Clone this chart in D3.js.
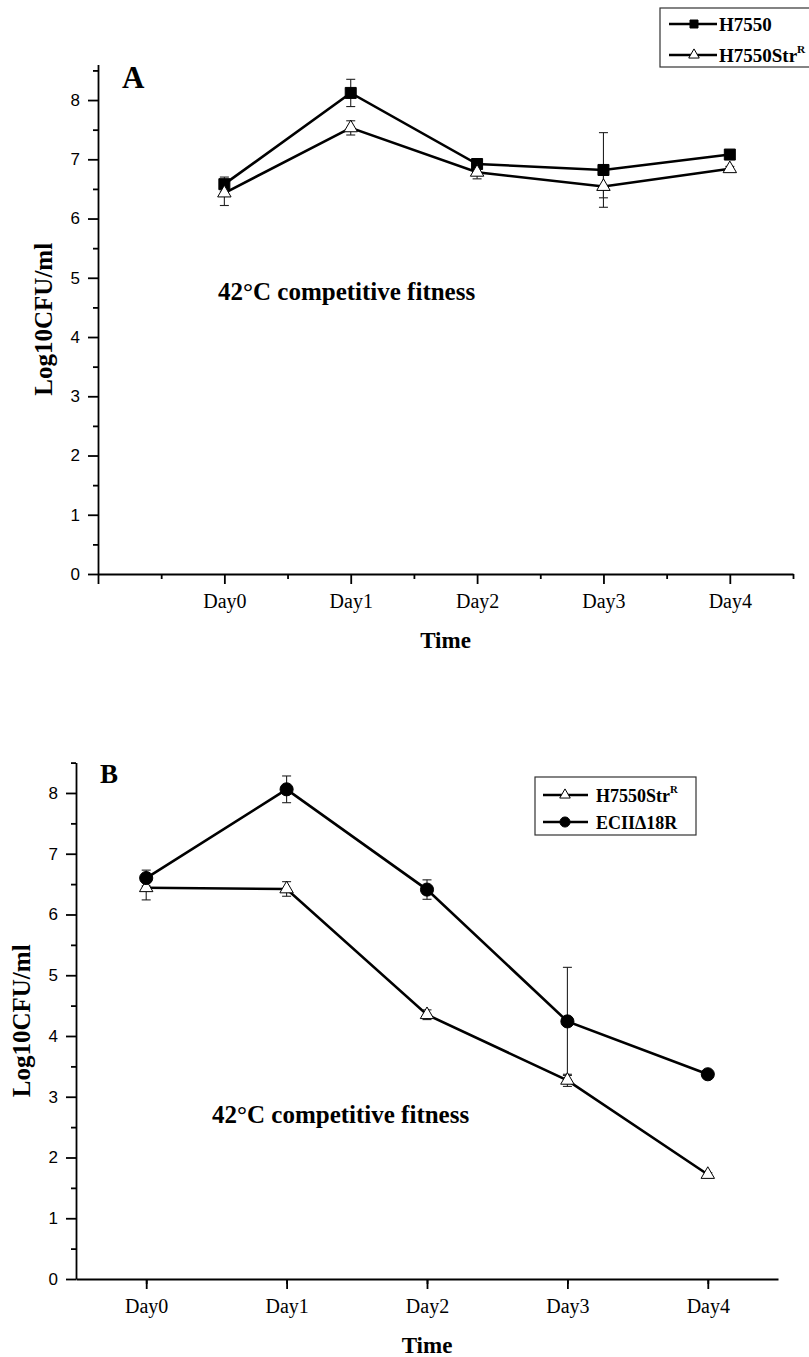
<!DOCTYPE html>
<meta charset="utf-8">
<script src="https://d3js.org/d3.v7.min.js"></script>
<style>
body { margin: 0; background: #fff; }
.ax .domain, .ax .tick line { stroke: #000; stroke-width: 1.8px; }
.ax .tick text { font-family: 'Liberation Sans', Arial, sans-serif; font-size: 17px; fill: #000; }
.xax .tick text { font-family: 'Liberation Serif', 'Times New Roman', serif; font-size: 20px; }
.bold { font-family: 'Liberation Serif', 'Times New Roman', serif; font-weight: bold; fill: #000; }
</style>
<div id="chart"></div>
<script>

// categories and ticks
var days = ["Day0", "Day1", "Day2", "Day3", "Day4"];
var yTicks = [0, 1, 2, 3, 4, 5, 6, 7, 8];
var yMinor = [0.5, 1.5, 2.5, 3.5, 4.5, 5.5, 6.5, 7.5, 8.5];

// panel A
var aH7550 = [6.58, 8.12, 6.92, 6.82, 7.08];
var aH7550Err = [0.12, 0.23, 0.07, 0.63, 0.05];
var aStrR = [6.43, 7.53, 6.78, 6.54, 6.84];
var aStrRErr = [0.21, 0.12, 0.11, 0.19, 0.04];

// panel B
var bStrR = [6.44, 6.42, 4.35, 3.27, 1.72];
var bStrRErr = [0.20, 0.12, 0.08, 0.10, 0.03];
var bEC = [6.60, 8.06, 6.41, 4.24, 3.37];
var bECErr = [0.13, 0.22, 0.16, 0.89, 0.03];

var svg = d3.select("#chart")
  .append("svg")
    .attr("width", 809)
    .attr("height", 1357);

var markers = {
  square:   {type: d3.symbolSquare,   size: 121, fill: "#000", lsize: 64},
  triangle: {type: d3.symbolTriangle, size: 78,  fill: "#fff", lsize: 48},
  circle:   {type: d3.symbolCircle,   size: 135, fill: "#000", lsize: 80}
};

function drawPanel(p) {
  var x = d3.scaleLinear().domain(p.xDomain).range(p.xRange);
  var y = d3.scaleLinear().domain(p.yDomain).range(p.yRange);
  var g = svg.append("g");
  var x0 = p.xRange[0], y0 = p.yRange[0];

  // minor ticks
  g.append("g").attr("class", "ax")
    .attr("transform", "translate(" + x0 + ",0)")
    .call(d3.axisLeft(y).tickValues(yMinor.filter(function(v) { return v <= p.yDomain[1]; })).tickSize(5).tickFormat(""))
    .call(function(s) { s.select(".domain").remove(); });
  var xMinor = d3.range(p.xDomain[0] + 0.5, p.xDomain[1] + 0.01, 1);
  g.append("g").attr("class", "ax")
    .attr("transform", "translate(0," + y0 + ")")
    .call(d3.axisBottom(x).tickValues(xMinor).tickSize(5).tickFormat(""))
    .call(function(s) { s.select(".domain").remove(); });

  // Y axis
  g.append("g").attr("class", "ax")
    .attr("transform", "translate(" + x0 + ",0)")
    .call(d3.axisLeft(y).tickValues(yTicks).tickSize(10).tickSizeOuter(0).tickPadding(8));

  // X axis
  var xMajor = d3.range(Math.ceil(p.xDomain[0]), 5);
  g.append("g").attr("class", "ax xax")
    .attr("transform", "translate(0," + y0 + ")")
    .call(d3.axisBottom(x).tickValues(xMajor).tickSize(10).tickSizeOuter(0).tickPadding(10)
      .tickFormat(function(i) { return i < 0 ? "" : days[i]; }));

  g.append("text").attr("class", "bold")
    .attr("x", (p.xRange[0] + p.xRange[1]) / 2).attr("y", y0 + 74)
    .attr("text-anchor", "middle").style("font-size", "23px")
    .text("Time");

  g.append("text").attr("class", "bold")
    .attr("transform", "translate(" + p.ylabX + "," + (y0 + p.yRange[1]) / 2 + ") rotate(-90)")
    .attr("dy", "-16")
    .attr("text-anchor", "middle").style("font-size", "25px")
    .text("Log10CFU/ml");

  g.append("text").attr("class", "bold")
    .attr("x", p.letter.x).attr("y", p.letter.y)
    .style("font-size", p.letter.size + "px")
    .text(p.letter.t);

  g.append("text").attr("class", "bold")
    .attr("x", p.note.x).attr("y", p.note.y)
    .style("font-size", "25px")
    .text("42\u00B0C competitive fitness");

  var line = d3.line()
    .x(function(d, i) { return x(i); })
    .y(function(d) { return y(d); });

  p.series.forEach(function(s) {
    g.append("path")
      .datum(s.values)
      .attr("fill", "none")
      .attr("stroke", "#000")
      .attr("stroke-width", 2.6)
      .attr("d", line);
  });

  p.series.forEach(function(s) {
    var eb = g.append("g").selectAll("g")
      .data(s.values)
      .enter().append("g")
        .attr("stroke", "#222")
        .attr("stroke-width", 1.1);
    eb.append("line")
      .attr("x1", function(d, i) { return x(i); })
      .attr("x2", function(d, i) { return x(i); })
      .attr("y1", function(d, i) { return y(d - s.errs[i]); })
      .attr("y2", function(d, i) { return y(d + s.errs[i]); });
    [-1, 1].forEach(function(sign) {
      eb.append("line")
        .attr("x1", function(d, i) { return x(i) - 4.5; })
        .attr("x2", function(d, i) { return x(i) + 4.5; })
        .attr("y1", function(d, i) { return y(d + sign * s.errs[i]); })
        .attr("y2", function(d, i) { return y(d + sign * s.errs[i]); });
    });
  });

  p.series.forEach(function(s) {
    var m = markers[s.marker];
    g.append("g").selectAll("path")
      .data(s.values)
      .enter().append("path")
        .attr("transform", function(d, i) { return "translate(" + x(i) + "," + y(d) + ")"; })
        .attr("d", d3.symbol().type(m.type).size(m.size))
        .attr("fill", m.fill)
        .attr("stroke", "#000")
        .attr("stroke-width", 1);
  });

  // legend
  var L = p.legend;
  g.append("rect")
    .attr("x", L.x).attr("y", L.y).attr("width", L.w).attr("height", L.h)
    .attr("fill", "#fff").attr("stroke", "#333").attr("stroke-width", 1.2);
  L.rows.forEach(function(r) {
    var s = p.series[r.series];
    var m = markers[s.marker];
    g.append("line")
      .attr("x1", L.lx0).attr("x2", L.lx1).attr("y1", r.cy).attr("y2", r.cy)
      .attr("stroke", "#000").attr("stroke-width", 2.4);
    g.append("path")
      .attr("transform", "translate(" + L.mx + "," + r.cy + ")")
      .attr("d", d3.symbol().type(m.type).size(m.lsize))
      .attr("fill", m.fill).attr("stroke", "#000").attr("stroke-width", 1);
    var t = g.append("text").attr("class", "bold")
      .attr("x", L.tx).attr("y", r.cy + L.base)
      .style("font-size", L.size + "px");
    t.append("tspan").text(s.name);
    if (s.sup) {
      t.append("tspan").attr("dy", -9).style("font-size", (L.size * 0.6) + "px").text(s.sup);
    }
  });
}

drawPanel({
  xDomain: [-1, 4.5], xRange: [98, 793],
  yDomain: [0, 8.6], yRange: [574, 64.5],
  ylabX: 68,
  letter: {t: "A", x: 122, y: 88, size: 31},
  note: {x: 218, y: 300},
  series: [
    {name: "H7550", values: aH7550, errs: aH7550Err, marker: "square"},
    {name: "H7550Str", sup: "R", values: aStrR, errs: aStrRErr, marker: "triangle"}
  ],
  legend: {x: 660, y: 8, w: 160, h: 59, lx0: 669, lx1: 717, mx: 694, tx: 719, base: 7, size: 19,
    rows: [{series: 0, cy: 24}, {series: 1, cy: 55}]}
});

drawPanel({
  xDomain: [-0.5, 4.5], xRange: [76, 778],
  yDomain: [0, 8.5], yRange: [1279, 762.6],
  ylabX: 46,
  letter: {t: "B", x: 100, y: 783, size: 27},
  note: {x: 212, y: 1123},
  series: [
    {name: "H7550Str", sup: "R", values: bStrR, errs: bStrRErr, marker: "triangle"},
    {name: "ECII\u039418R", values: bEC, errs: bECErr, marker: "circle"}
  ],
  legend: {x: 535, y: 777, w: 161, h: 58, lx0: 543, lx1: 588, mx: 565, tx: 596, base: 7, size: 18,
    rows: [{series: 0, cy: 795}, {series: 1, cy: 822}]}
});

</script>
